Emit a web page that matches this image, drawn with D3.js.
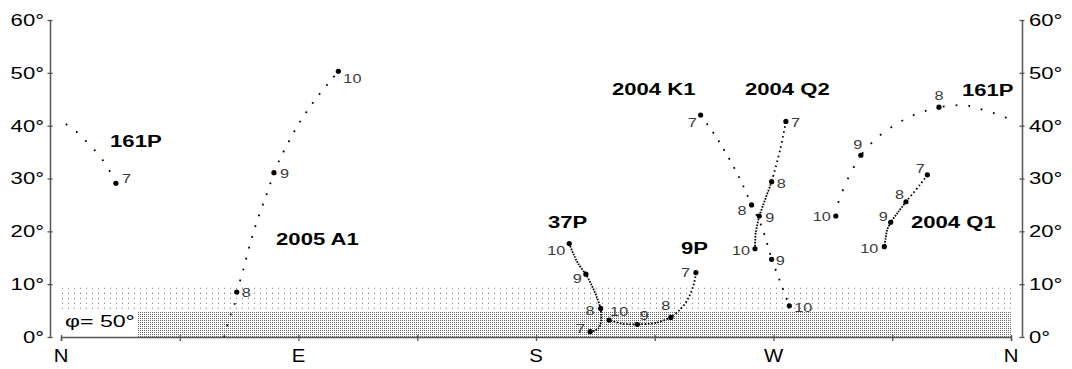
<!DOCTYPE html>
<html>
<head>
<meta charset="utf-8">
<script src="https://cdn.jsdelivr.net/npm/d3@7"></script>
<style>
  body { margin: 0; background: #fff; }
  svg { display: block; }
  text { font-family: "Liberation Sans", Arial, sans-serif; }
</style>
</head>
<body>
<svg id="chart" width="1072" height="369"></svg>
<script>
// ---- Axes ----
const compassLabels   = ["N", "E", "S", "W", "N"];
const compassAzimuths = [0, 90, 180, 270, 360];
const bearingTicks    = [0, 45, 90, 135, 180, 225, 270, 315, 360];
const altitudeTicks   = [0, 10, 20, 30, 40, 50, 60];
const altitudeLabels  = ["0°", "10°", "20°", "30°", "40°", "50°", "60°"];

// ---- Comet tracks: [azimuth °, altitude °, day of month (or null)] ----
const track161P = [
  [20.8, 29.1, 7], [17.8, 32.0], [14.4, 34.4], [10.2, 36.7], [6.4, 38.6], [1.9, 40.3],
  [357.0, 41.8], [352.0, 42.6], [347.1, 43.3], [342.2, 43.9], [332.7, 43.5, 8],
  [325.1, 42.4], [317.9, 40.7], [309.2, 37.7], [303.1, 34.4, 9],
  [299.4, 31.2], [296.3, 27.8], [294.8, 25.9], [293.6, 22.9, 10]
];
const track2005A1 = [
  [61.8, 0.0], [64.0, 3.8], [65.7, 6.1], [66.6, 8.5, 8], [69.1, 12.8], [71.6, 17.5],
  [74.2, 21.8], [77.7, 26.7], [80.7, 31.1, 9], [82.7, 33.4], [87.2, 37.8],
  [91.8, 41.7], [96.9, 45.3], [102.3, 48.6], [105.1, 50.3, 10]
];
const track37P = [
  [200.5, 1.0, 7], [203.6, 1.6], [204.7, 3.2], [204.5, 5.4, 8], [203.0, 7.6],
  [201.1, 9.8], [198.9, 11.9, 9], [196.0, 13.9], [194.1, 15.8], [192.6, 17.7, 10]
];
const track9P = [
  [240.6, 12.2, 7], [239.9, 10.2], [237.7, 7.3], [234.6, 5.2], [231.1, 3.7, 8],
  [225.7, 2.7], [218.4, 2.4, 9], [213.1, 2.5], [207.7, 3.2, 10]
];
const track2004K1 = [
  [242.4, 42.0, 7], [247.8, 38.2], [252.0, 34.8], [257.0, 30.2], [261.7, 25.0, 8],
  [265.5, 20.9], [269.3, 14.7, 9], [272.5, 10.5], [276.0, 5.9, 10]
];
const track2004Q2 = [
  [274.7, 40.8, 7], [272.5, 35.4], [269.3, 29.4, 8], [266.1, 25.0], [264.6, 22.9, 9],
  [263.3, 19.8], [263.0, 16.7, 10]
];
const track2004Q1 = [
  [328.3, 30.7, 7], [325.5, 28.8], [320.2, 25.6, 8], [317.3, 23.7], [314.4, 21.7, 9],
  [313.1, 20.3], [312.5, 18.7], [312.0, 17.1, 10]
];

const comets = [
  { name: "161P",    track: track161P },
  { name: "2005 A1", track: track2005A1 },
  { name: "37P",     track: track37P },
  { name: "9P",      track: track9P },
  { name: "2004 K1", track: track2004K1 },
  { name: "2004 Q2", track: track2004Q2 },
  { name: "2004 Q1", track: track2004Q1 }
];

// Comet name annotations: [text, azimuth °, altitude °] of the text baseline start
const nameLabels = [
  ["161P", 18.6, 36.0], ["161P", 341.4, 45.6], ["2005 A1", 81.5, 17.4],
  ["37P", 184.5, 20.6], ["9P", 234.9, 15.7], ["2004 K1", 208.8, 45.8],
  ["2004 Q2", 259.2, 45.8], ["2004 Q1", 322.1, 20.6]
];

// Twilight bands (altitude °)
const bandOuter = [5, 9.5];
const bandInner = [0, 5];
const latitudeNote = "φ= 50°";

// ---- Styling ----
const trackDash = {
  "161P":    ["1.8,11"],
  "2005 A1": ["1.8,9.5"],
  "37P":     ["1.6,1.2"],
  "9P":      ["1.6,2.2", "1.6,1.6"],
  "2004 K1": ["1.8,8.5"],
  "2004 Q2": ["1.6,3.4", "1.6,1.3"],
  "2004 Q1": ["1.6,2.6", "1.6,1.2"]
};
// date label placement relative to the marker: [dx, dy, anchor]
const dayLabelPlacement = {
  "161P":    {7: [6, 0, "start"], 8: [0, -7, "middle"], 9: [-3, -6, "middle"], 10: [-5, 5, "end"]},
  "2005 A1": {8: [5, 5, "start"], 9: [6, 5, "start"], 10: [5, 12, "start"]},
  "37P":     {7: [-5, 1, "end"], 8: [-6, 7, "end"], 9: [-4, 9, "end"], 10: [-4, 12, "end"]},
  "9P":      {7: [-6, 4, "end"], 8: [-5, -7, "middle"], 9: [7, -4, "middle"], 10: [1, -4, "start"]},
  "2004 K1": {7: [-4, 12, "end"], 8: [-5, 10, "end"], 9: [4, 6, "start"], 10: [5, 6, "start"]},
  "2004 Q2": {7: [5, 6, "start"], 8: [5, 6, "start"], 9: [6, 6, "start"], 10: [-5, 6, "end"]},
  "2004 Q1": {7: [-7, -2, "middle"], 8: [-6.5, -3, "middle"], 9: [-3, -1, "end"], 10: [-6, 6, "end"]}
};

const svg = d3.select("#chart");
const x = d3.scaleLinear().domain([0, 360]).range([61, 1011]);
const y = d3.scaleLinear().domain([0, 60]).range([337, 20]);
const leftX = 50, rightX = 1022;
const axisColor = "#555";

// horizontally widened lettering
function widen(sel, sx) {
  sel.each(function () {
    const t = d3.select(this);
    const tx = +t.attr("x") || 0, ty = +t.attr("y") || 0;
    t.attr("x", 0).attr("y", 0).attr("transform", `translate(${tx},${ty}) scale(${sx},1)`);
  });
}

// ---- patterns ----
const defs = svg.append("defs");
const pSparse = defs.append("pattern").attr("id", "sparse")
  .attr("patternUnits", "userSpaceOnUse").attr("width", 6).attr("height", 5)
  .attr("x", x(0) + 1).attr("y", y(bandOuter[1]) + 1);
pSparse.append("rect").attr("x", 0).attr("y", 0).attr("width", 1).attr("height", 1).attr("fill", "#777");
const pDense = defs.append("pattern").attr("id", "dense")
  .attr("patternUnits", "userSpaceOnUse").attr("width", 2).attr("height", 2);
pDense.append("rect").attr("x", 0).attr("y", 0).attr("width", 2).attr("height", 2).attr("fill", "#fff");
pDense.append("rect").attr("x", 0).attr("y", 0).attr("width", 1).attr("height", 1).attr("fill", "#6a6a6a");
defs.append("clipPath").attr("id", "plotClip").append("rect")
  .attr("x", x(0)).attr("y", 0).attr("width", x(360) - x(0)).attr("height", 369);

// ---- bands ----
svg.append("rect")
  .attr("x", x(0)).attr("width", x(360) - x(0))
  .attr("y", y(bandOuter[1])).attr("height", y(bandOuter[0]) - y(bandOuter[1]))
  .attr("fill", "url(#sparse)");
const noteScale = 1.36;
const noteText = svg.append("text").attr("x", x(0) + 4).attr("y", y(0) - 10)
  .attr("font-size", 17).attr("fill", "#000").text(latitudeNote);
widen(noteText, noteScale);
const noteEnd = Math.round(x(0) + 4 + noteText.node().getBBox().width * noteScale + 2);
svg.append("rect")
  .attr("x", noteEnd).attr("width", Math.round(x(360)) - noteEnd)
  .attr("y", Math.round(y(bandInner[1]))).attr("height", Math.round(y(bandInner[0])) - Math.round(y(bandInner[1])))
  .attr("fill", "url(#dense)").attr("shape-rendering", "crispEdges");

// ---- axes ----
const gLeft = svg.append("g").attr("transform", `translate(${leftX},0)`)
  .call(d3.axisLeft(y).tickValues(altitudeTicks).tickFormat((d, i) => altitudeLabels[i]).tickSize(0).tickPadding(6));
const gRight = svg.append("g").attr("transform", `translate(${rightX},0)`)
  .call(d3.axisRight(y).tickValues(altitudeTicks).tickFormat((d, i) => altitudeLabels[i]).tickSize(0).tickPadding(7));
const gBottom = svg.append("g").attr("transform", `translate(0,${y(0)})`)
  .call(d3.axisBottom(x).tickValues(bearingTicks).tickFormat("").tickSize(4));

[gLeft, gRight].forEach(g => {
  g.select(".domain").attr("stroke", axisColor).attr("stroke-width", 1.5);
  g.selectAll(".tick line").attr("x1", -2.5).attr("x2", 2.5).attr("stroke", axisColor).attr("stroke-width", 1.3);
  g.selectAll(".tick text").attr("font-size", 17).attr("fill", "#000")
    .attr("font-family", "'Liberation Sans', Arial, sans-serif");
  widen(g.selectAll(".tick text"), 1.3);
});
gBottom.select(".domain").attr("stroke", axisColor).attr("stroke-width", 1.5);
gBottom.selectAll(".tick line").attr("y1", -2).attr("stroke", axisColor).attr("stroke-width", 1.3);

const compass = svg.append("g").selectAll("text").data(compassLabels).join("text")
  .attr("x", (d, i) => x(compassAzimuths[i])).attr("y", 362)
  .attr("text-anchor", "middle").attr("font-size", 18.5).attr("fill", "#000")
  .text(d => d);
widen(compass, 1.1);

// ---- tracks ----
const line = d3.line().x(d => x(d[0])).y(d => y(d[1])).curve(d3.curveCatmullRom.alpha(0.5));
const plot = svg.append("g").attr("clip-path", "url(#plotClip)");
const markers = svg.append("g");

comets.forEach(c => {
  // unwrap azimuths across north
  const pts = [];
  c.track.forEach((p, i) => {
    let az = p[0];
    if (i > 0) {
      const prev = pts[i - 1][0];
      while (az - prev > 180) az -= 360;
      while (az - prev < -180) az += 360;
    }
    pts.push([az, p[1], p[2]]);
  });
  // split into runs between dated positions
  const cuts = [0];
  pts.forEach((p, i) => { if (p[2] != null && i !== 0 && i !== pts.length - 1) cuts.push(i); });
  cuts.push(pts.length - 1);
  const dashes = trackDash[c.name];
  for (let k = 0; k < cuts.length - 1; k++) {
    const seg = pts.slice(cuts[k], cuts[k + 1] + 1);
    const dash = dashes[Math.min(k, dashes.length - 1)];
    [-360, 0, 360].forEach(off => {
      plot.append("path")
        .attr("d", line(seg.map(p => [p[0] + off, p[1]])))
        .attr("fill", "none").attr("stroke", "#000").attr("stroke-width", 1.8)
        .attr("stroke-dasharray", dash);
    });
  }
  // dated markers
  pts.filter(p => p[2] != null).forEach(p => {
    const az = ((p[0] % 360) + 360) % 360;
    const cx = x(az), cy = y(p[1]);
    markers.append("circle").attr("cx", cx).attr("cy", cy).attr("r", 2.6).attr("fill", "#000");
    const pl = dayLabelPlacement[c.name][p[2]];
    const t = markers.append("text").attr("x", cx + pl[0]).attr("y", cy + pl[1])
      .attr("text-anchor", pl[2]).attr("font-size", 13).attr("fill", "#3a3a3a").text(p[2]);
    widen(t, 1.25);
  });
});

// ---- comet names ----
const names = svg.append("g").selectAll("text").data(nameLabels).join("text")
  .attr("x", d => x(d[1])).attr("y", d => y(d[2]))
  .attr("font-size", 17).attr("font-weight", "bold").attr("fill", "#000")
  .text(d => d[0]);
widen(names, 1.3);
</script>
</body>
</html>
